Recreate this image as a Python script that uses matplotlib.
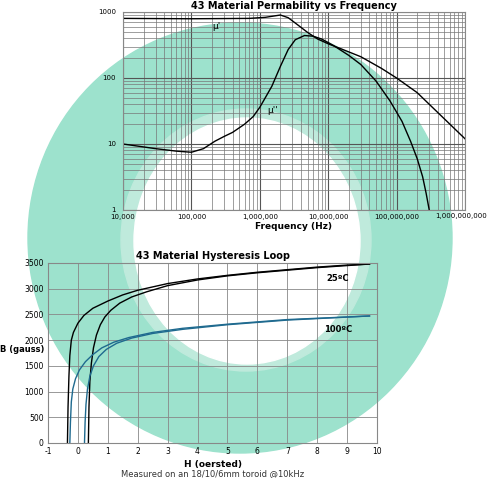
import numpy as np
import matplotlib.pyplot as plt
from matplotlib.patches import Ellipse
from matplotlib.ticker import FuncFormatter, LogLocator

plt.rcParams["axes.unicode_minus"] = False

# =============================
# Data
# =============================
freq_mu1 = [1e4, 1e5, 7e5, 1.2e6, 2e6, 2.6e6, 3.5e6, 5e6, 7e6, 1e7, 1.5e7, 3e7,
            6e7, 1e8, 2e8, 4e8, 1e9]
mu1 = [800, 790, 800, 830, 900, 820, 650, 490, 390, 330, 280, 210,
       140, 100, 60, 30, 12]

freq_mu2 = [1e4, 3e4, 6e4, 1e5, 1.5e5, 2.2e5, 3e5, 4e5, 6e5, 8e5, 1e6, 1.2e6, 1.5e6,
            2e6, 2.6e6, 3.3e6, 4.5e6, 6e6, 8e6, 1.2e7, 2e7, 3e7, 5e7, 8e7,
            1.2e8, 1.6e8, 2e8, 2.4e8, 2.7e8, 3e8]
mu2 = [10, 8.5, 7.8, 7.5, 8.5, 11, 13, 15, 20, 26, 36, 50, 75,
       150, 270, 380, 440, 430, 390, 310, 220, 160, 90, 45,
       22, 11, 6, 3.2, 1.8, 1]

h_25_up = [-0.35, -0.33, -0.3, -0.27, -0.22, -0.15, 0.0, 0.2, 0.5, 1.0, 1.5,
           2.0, 3.0, 4.0, 5.0, 6.0, 7.0, 8.0, 9.0, 9.75]
b_25_up = [0, 700, 1300, 1700, 2000, 2150, 2330, 2480, 2620, 2760, 2880,
           2970, 3100, 3190, 3260, 3320, 3370, 3420, 3460, 3480]
h_25_dn = [0.35, 0.37, 0.4, 0.45, 0.52, 0.62, 0.75, 0.9, 1.1, 1.4, 1.8,
           2.3, 3.0, 4.0, 5.0, 6.0, 7.0, 8.0, 9.0, 9.75]
b_25_dn = [0, 700, 1200, 1550, 1850, 2100, 2300, 2450, 2580, 2720, 2840,
           2940, 3060, 3170, 3250, 3310, 3360, 3410, 3450, 3480]

h_100_up = [-0.27, -0.25, -0.22, -0.17, -0.08, 0.05, 0.25, 0.5, 0.8, 1.2, 1.7,
            2.5, 3.5, 5.0, 7.0, 9.75]
b_100_up = [0, 400, 800, 1050, 1250, 1420, 1580, 1720, 1850, 1960, 2050,
            2150, 2230, 2310, 2400, 2470]
h_100_dn = [0.22, 0.24, 0.27, 0.32, 0.4, 0.52, 0.7, 0.95, 1.3, 1.8, 2.5,
            3.5, 5.0, 7.0, 9.75]
b_100_dn = [0, 400, 750, 1050, 1300, 1500, 1680, 1820, 1940, 2040, 2130,
            2210, 2300, 2390, 2470]

W, H = 488, 478
fig = plt.figure(figsize=(W / 100, H / 100), dpi=100)

# =============================
# Toroid backdrop
# =============================
bg = fig.add_axes([0, 0, 1, 1])
bg.set_xlim(0, W)
bg.set_ylim(H, 0)
bg.axis("off")
bg.add_patch(Ellipse((240, 238), 424, 430, color="#9de2cd", zorder=0))
bg.add_patch(Ellipse((246, 240), 250, 262, color="#bfeadc", zorder=1))
bg.add_patch(Ellipse((247, 241), 226, 246, color="white", zorder=2))

def px(x0, y0, x1, y1):
    return [x0 / W, 1 - y1 / H, (x1 - x0) / W, (y1 - y0) / H]

# =============================
# Permeability vs frequency
# =============================
ax1 = fig.add_axes(px(123, 12, 465, 210))
ax1.patch.set_alpha(0)
ax1.loglog(freq_mu1, mu1, color="black", lw=1)
ax1.loglog(freq_mu2, mu2, color="black", lw=1)
ax1.set_xlim(1e4, 1e9)
ax1.set_ylim(1, 1000)
ax1.xaxis.set_minor_locator(LogLocator(subs=np.arange(2, 10)))
ax1.yaxis.set_minor_locator(LogLocator(subs=np.arange(2, 10)))
ax1.grid(True, which="major", color="#555555", lw=0.8)
ax1.grid(True, which="minor", color="#777777", lw=0.5)
# last label is placed by hand so it stays inside the figure
ax1.xaxis.set_major_formatter(FuncFormatter(lambda v, p: "" if v > 5e8 else f"{int(round(v)):,}"))
ax1.yaxis.set_major_formatter(FuncFormatter(lambda v, p: f"{int(round(v))}"))
ax1.tick_params(which="both", length=0, labelsize=5.0, pad=3)
ax1.tick_params(axis="y", pad=5)
ax1.set_xlabel("Frequency (Hz)", fontsize=6.5, fontweight="bold", labelpad=1)
ax1.set_title("43 Material Permability vs Frequency", fontsize=7, fontweight="bold", pad=2)
ax1.text(2e5, 550, "μ'", fontsize=6.5)
ax1.text(1.3e6, 30, "μ''", fontsize=6.5)
for s in ax1.spines.values():
    s.set_color("#888888")
fig.text(487 / W, 1 - 213 / H, "1,000,000,000", fontsize=5.0, ha="right", va="top")

# =============================
# Hysteresis loop
# =============================
ax2 = fig.add_axes(px(48, 263, 377, 443))
ax2.patch.set_alpha(0)
ax2.plot(h_25_up, b_25_up, color="black", lw=1)
ax2.plot(h_25_dn, b_25_dn, color="black", lw=1)
ax2.plot(h_100_up, b_100_up, color="#1f6a8f", lw=1)
ax2.plot(h_100_dn, b_100_dn, color="#1f6a8f", lw=1)
ax2.set_xlim(-1, 10)
ax2.set_ylim(0, 3500)
ax2.set_xticks(range(-1, 11))
ax2.set_yticks(range(0, 3501, 500))
ax2.grid(True, color="#888888", lw=0.6)
ax2.tick_params(length=0, labelsize=5.5, pad=3)
ax2.set_title("43 Material Hysteresis Loop", fontsize=7, fontweight="bold", pad=3)
ax2.text(8.7, 3150, "25ºC", fontsize=6, fontweight="bold", ha="center")
ax2.text(8.7, 2150, "100ºC", fontsize=6, fontweight="bold", ha="center")
for s in ax2.spines.values():
    s.set_color("#888888")

fig.text(0.0, 1 - 350 / H, "B (gauss)", fontsize=6, fontweight="bold", va="center")
fig.text(213 / W, 1 - 465 / H, "H (oersted)", fontsize=6.5, fontweight="bold", ha="center", va="center")
fig.text(213 / W, 1 - 474 / H, "Measured on an 18/10/6mm toroid @10kHz", fontsize=6, ha="center", va="center", color="#333333")

plt.savefig("out.png", dpi=100)
